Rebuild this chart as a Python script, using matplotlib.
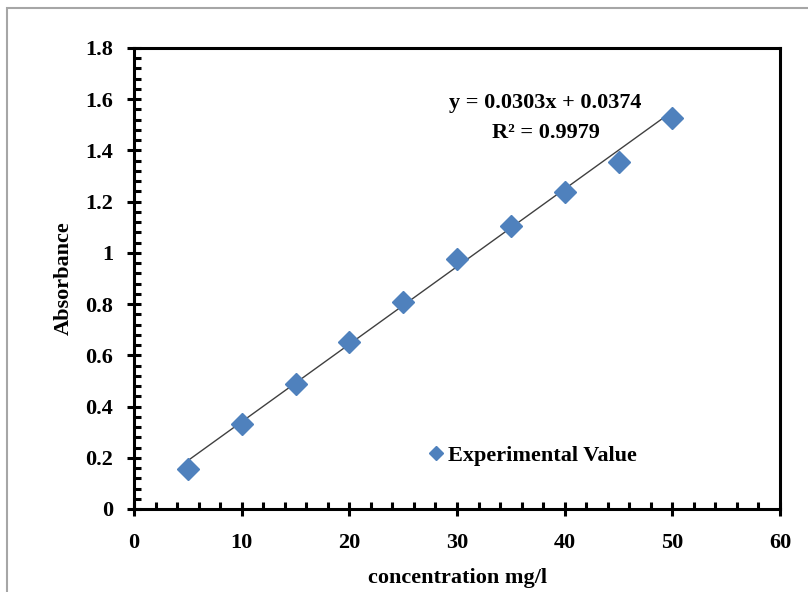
import numpy as np
import matplotlib.pyplot as plt
from matplotlib.patches import Rectangle
from matplotlib.ticker import MultipleLocator

# Calibration data
concentration = [5, 10, 15, 20, 25, 30, 35, 40, 45, 50]
absorbance = [0.156, 0.332, 0.488, 0.652, 0.809, 0.977, 1.105, 1.238, 1.355, 1.527]

# Linear trendline
slope, intercept = 0.0303, 0.0374
r_squared = 0.9979

plt.rcParams['font.family'] = 'Liberation Serif'
plt.rcParams['font.weight'] = 'bold'

fig = plt.figure(figsize=(8.08, 5.92), dpi=100)
ax = fig.add_axes([134 / 808, 1 - 509 / 592, (780 - 134) / 808, (509 - 48) / 592])

# chart area border
fig.patches.append(Rectangle((7 / 808, -0.1), 1.2, 1 - 8 / 592 + 0.1,
                             transform=fig.transFigure, fill=False,
                             edgecolor='#a6a6a6', linewidth=1.5))

x_fit = np.array([min(concentration), max(concentration)])
ax.plot(x_fit, slope * x_fit + intercept, color='#404040', lw=1.0, zorder=2)
ax.plot(concentration, absorbance, linestyle='none', marker='D', ms=11,
        color='#4f81bd', label='Experimental Value', zorder=3)

ax.set_xlim(0, 60)
ax.set_ylim(0, 1.8)
ax.xaxis.set_major_locator(MultipleLocator(10))
ax.xaxis.set_minor_locator(MultipleLocator(2))
ax.yaxis.set_major_locator(MultipleLocator(0.2))
ax.yaxis.set_minor_locator(MultipleLocator(0.04))
ax.yaxis.set_major_formatter(plt.FuncFormatter(lambda v, p: f"{v:g}"))

for s in ax.spines.values():
    s.set_linewidth(2.2)
ax.tick_params(which='major', direction='inout', length=10, width=2.2,
               labelsize=16)
ax.tick_params(axis='y', which='major', pad=10)
ax.tick_params(axis='x', which='major', pad=12)
ax.tick_params(which='minor', direction='in', length=5, width=2.2)
ax.tick_params(top=False, right=False, which='both')

ax.set_xlabel('concentration mg/l', fontsize=16, fontweight='bold', labelpad=11)
ax.set_ylabel('Absorbance', fontsize=16, fontweight='bold', labelpad=8)

ax.text(0.637, 0.848, f"y = {slope}x + {intercept}\nR² = {r_squared}",
        transform=ax.transAxes, ha='center', va='center', fontsize=16,
        fontweight='bold', linespacing=1.7)

ax.legend(loc='center left', bbox_to_anchor=(0.42, 0.115), frameon=False,
          fontsize=16, handletextpad=0.0, handlelength=1.0, markerscale=0.65)

fig.savefig('out.png', dpi=100)
